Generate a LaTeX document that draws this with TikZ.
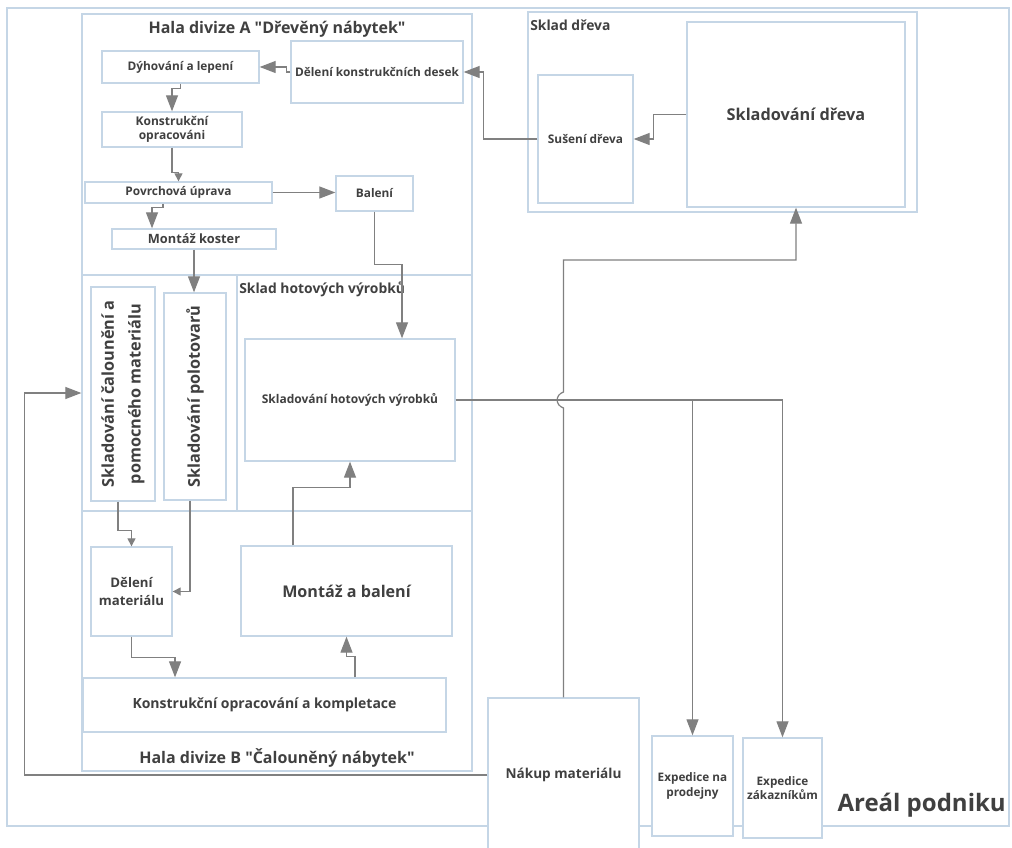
\documentclass[tikz,border=0pt]{standalone}
\usepackage{fontspec}
\setmainfont{Open Sans}[Ligatures=TeXOff]
\usetikzlibrary{arrows.meta}
\definecolor{framecol}{RGB}{197,214,230}
\definecolor{wire}{RGB}{128,128,128}
\definecolor{ink}{RGB}{64,64,64}
\tikzset{
  corners/.style n args={4}{minimum width={(#3-#1)*0.75pt}, minimum height={(#4-#2)*0.75pt},
    at={({(#1+#3)/2},{(#2+#4)/2})}},
  rot corners/.style n args={4}{minimum width={(#4-#2)*0.75pt}, minimum height={(#3-#1)*0.75pt},
    at={({(#1+#3)/2},{(#2+#4)/2})}, rotate=90},
  zone/.style={draw=framecol, line width=1pt, fill=white, inner sep=0pt},
  proc/.style={draw=framecol, line width=1pt, fill=white, inner sep=1pt, align=center,
    text=ink, font=\bfseries\fontsize{8.9}{10.5}\selectfont},
  title/.style={text=ink, inner sep=0pt, font=\bfseries\fontsize{12}{14}\selectfont},
  zonelabel/.style={text=ink, inner sep=0pt, font=\bfseries\fontsize{10.4}{12}\selectfont},
  flow/.style={draw=wire, line width=0.9pt, -{Triangle[length=12pt,width=9pt]}},
  flowsmall/.style={draw=wire, line width=0.9pt, -{Triangle[length=6pt,width=6pt]}}
}
\begin{document}
\begin{tikzpicture}[x=0.75pt,y=-0.75pt]
\fill[white] (0,0) rectangle (1012,848);
\useasboundingbox (0,0) rectangle (1012,848);
\clip (0,0) rectangle (1012,848);

% site and halls
\node[zone, corners={7}{8}{1009}{826}] (areal) {};
\node[zone, corners={82}{14}{472}{275}] (halaA) {};
\node[zone, corners={82}{275}{472}{511}] (skladHot) {};
\node[zone, corners={82}{275}{237}{511}] (skladMat) {};
\node[zone, corners={82}{511}{472}{771}] (halaB) {};
\node[zone, corners={528}{12}{917}{212}] (skladDreva) {};

\node[title] (tA) at (277,29) {Hala divize A "Dřevěný nábytek"};
\node[title] (tB) at (277,758) {Hala divize B "Čalouněný nábytek"};
\node[zonelabel, anchor=west] (tH) at (239,289) {Sklad hotových výrobků};
\node[zonelabel, anchor=west] (tD) at (530,25) {Sklad dřeva};
\node[text=ink, inner sep=0pt, anchor=east, font=\bfseries\fontsize{18}{20}\selectfont] (tR) at (1006,805) {Areál podniku};

% process steps
\node[proc, corners={102}{51}{259}{83}] (dyh) {Dýhování a lepení};
\node[proc, corners={291}{41}{463}{103}] (desky) {Dělení konstrukčních desek};
\node[proc, corners={102}{112}{242}{147}, font=\bfseries\fontsize{9}{10}\selectfont] (konstr) {Konstrukční\\opracováni};
\node[proc, corners={85}{182}{272}{203}] (povrch) {Povrchová úprava};
\node[proc, corners={336}{176}{413}{211}] (baleni) {Balení};
\node[proc, corners={112}{229}{276}{249}, font=\bfseries\fontsize{9.6}{11}\selectfont] (koster) {Montáž koster};
\node[proc, rot corners={91}{287}{155}{501}, font=\bfseries\fontsize{12.2}{20}\selectfont] (calo) {Skladování čalounění a\\pomocného materiálu};
\node[proc, rot corners={164}{293}{226}{500}, font=\bfseries\fontsize{12.2}{20}\selectfont] (polot) {Skladování polotovarů};
\node[proc, corners={245}{339}{455}{461}, font=\bfseries\fontsize{9}{11}\selectfont] (hotove) {Skladování hotových výrobků};
\node[proc, corners={91}{547}{172}{636}, font=\bfseries\fontsize{9.9}{14}\selectfont] (delmat) {Dělení\\materiálu};
\node[proc, corners={241}{546}{452}{636}, font=\bfseries\fontsize{12.1}{14}\selectfont] (montaz) {Montáž a balení};
\node[proc, corners={83}{678}{446}{732}, font=\bfseries\fontsize{10.5}{12}\selectfont] (kompl) {Konstrukční opracování a kompletace};
\node[proc, corners={538}{75}{633}{203}] (suseni) {Sušení dřeva};
\node[proc, corners={687}{22}{905}{207}, font=\bfseries\fontsize{12.2}{14}\selectfont] (drevo) {Skladování dřeva};
\node[proc, corners={488}{698}{639}{852}, font=\bfseries\fontsize{10.2}{12}\selectfont] (nakup) {Nákup materiálu};
\node[proc, corners={652}{736}{733}{836}, font=\bfseries\fontsize{8.8}{11}\selectfont] (prodejny) {Expedice na\\prodejny};
\node[proc, corners={743}{738}{822}{838}, font=\bfseries\fontsize{8.8}{11}\selectfont] (zakaznici) {Expedice\\zákazníkům};

% material flow
\draw[flow] (dyh.south) -- ++(0,5) -| (konstr.north);
\draw[flowsmall] (konstr.south) -- ++(0,25) -| (povrch.north);
\draw[flow] (povrch.east) -- (povrch.east -| baleni.west);
\draw[flow] ([xshift=-11.6pt]povrch.south) -- ++(0,4) -| ([xshift=-31.5pt]koster.north);
\draw[flow] (koster.south) -- (koster.south |- polot.east);
\draw[flow] (baleni.south) -- ++(0,53) -| ([xshift=39pt]hotove.north);
\draw[flow] (desky.west) -- ++(-4,0) |- (dyh.east);
\draw[flow] (suseni.west) -- ++(-54,0) |- (desky.east);
\draw[flow] (drevo.west) -- ++(-33,0) |- (suseni.east);
\draw[flow] (nakup.north) -- (563.5,408) .. controls (555,405) and (555,395) .. (563.5,392)
  -- (563.5,260) -| (drevo.south);
\draw[flow] (hotove.east) -| (prodejny.north);
\draw[flow] (hotove.east) -| (zakaznici.north);
\draw[flowsmall] ([xshift=-3.75pt]calo.west) -- ++(0,29) -| (delmat.north);
\draw[flowsmall] ([xshift=-3.75pt]polot.west) |- (delmat.east);
\draw[flow] (delmat.south) -- ++(0,21) -| ([xshift=-67.1pt]kompl.north);
\draw[flow] ([xshift=67.9pt]kompl.north) -- ++(0,-21) -| (montaz.south);
\draw[flow] ([xshift=-40.1pt]montaz.north) -- ++(0,-58) -| (hotove.south);
\draw[flow] (nakup.west) -- ++(-463,0) |- (skladMat.west);
\end{tikzpicture}
\end{document}
